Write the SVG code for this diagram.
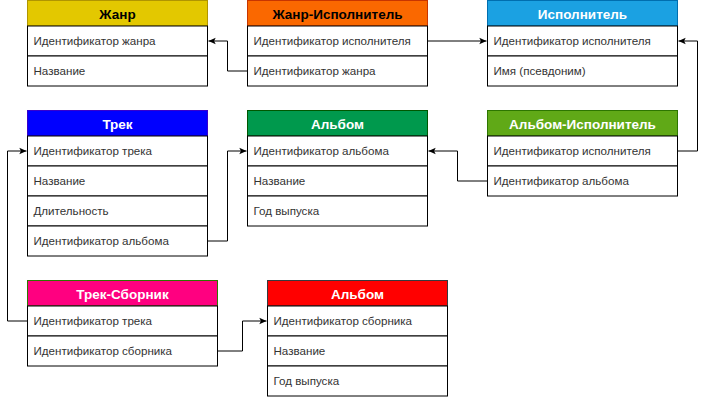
<svg xmlns="http://www.w3.org/2000/svg" width="706" height="400" viewBox="0 0 706 400">
<style>
.row{fill:#ffffff;stroke:#000000;stroke-width:1}
.t{font-family:"Liberation Sans",Arial,sans-serif;font-size:11.6px;fill:#333333}
.h{font-family:"Liberation Sans",Arial,sans-serif;font-size:13.5px;font-weight:bold;text-anchor:middle;fill:#ffffff}
.c{fill:none;stroke:#000000;stroke-width:1;marker-end:url(#arr)}
</style>
<defs>
<marker id="arr" viewBox="0 0 10 10" refX="9" refY="5" markerWidth="8" markerHeight="8" markerUnits="userSpaceOnUse" orient="auto">
<path d="M0,1 L9,5 L0,9 L2,5 Z" fill="#000000"/>
</marker>
</defs>
<rect width="706" height="400" fill="#ffffff"/>
<g id="connectors">
<path class="c" d="M247.5,71 H227.5 V41 H208.5"/>
<path class="c" d="M427.5,41 H486.5"/>
<path class="c" d="M677.5,151 H697.5 V41 H678.5"/>
<path class="c" d="M487.5,181 H457.5 V151 H428.5"/>
<path class="c" d="M207.5,241 H227.5 V151 H246.5"/>
<path class="c" d="M27.5,321 H7.5 V151 H26.5"/>
<path class="c" d="M217.5,351 H242.5 V321 H266.5"/>
</g>
<g id="zhanr">
<rect x="27.5" y="0.5" width="180" height="25.5" fill="#e3c800" stroke="#b09500"/>
<text class="h" x="117.5" y="19" style="fill:#000000">Жанр</text>
<rect class="row" x="27.5" y="26" width="180" height="30"/>
<text class="t" x="33.5" y="45">Идентификатор жанра</text>
<rect class="row" x="27.5" y="56" width="180" height="30"/>
<text class="t" x="33.5" y="75">Название</text>
</g>
<g id="zhanr-ispolnitel">
<rect x="247.5" y="0.5" width="180" height="25.5" fill="#fa6800" stroke="#c73500"/>
<text class="h" x="337.5" y="19" style="fill:#000000">Жанр-Исполнитель</text>
<rect class="row" x="247.5" y="26" width="180" height="30"/>
<text class="t" x="253.5" y="45">Идентификатор исполнителя</text>
<rect class="row" x="247.5" y="56" width="180" height="30"/>
<text class="t" x="253.5" y="75">Идентификатор жанра</text>
</g>
<g id="ispolnitel">
<rect x="487.5" y="0.5" width="190" height="25.5" fill="#1ba1e2" stroke="#006eaf"/>
<text class="h" x="582.5" y="19">Исполнитель</text>
<rect class="row" x="487.5" y="26" width="190" height="30"/>
<text class="t" x="493.5" y="45">Идентификатор исполнителя</text>
<rect class="row" x="487.5" y="56" width="190" height="30"/>
<text class="t" x="493.5" y="75">Имя (псевдоним)</text>
</g>
<g id="trek">
<rect x="27.5" y="110.5" width="180" height="25.5" fill="#0000ff" stroke="#3700cc"/>
<text class="h" x="117.5" y="129">Трек</text>
<rect class="row" x="27.5" y="136" width="180" height="30"/>
<text class="t" x="33.5" y="155">Идентификатор трека</text>
<rect class="row" x="27.5" y="166" width="180" height="30"/>
<text class="t" x="33.5" y="185">Название</text>
<rect class="row" x="27.5" y="196" width="180" height="30"/>
<text class="t" x="33.5" y="215">Длительность</text>
<rect class="row" x="27.5" y="226" width="180" height="30"/>
<text class="t" x="33.5" y="245">Идентификатор альбома</text>
</g>
<g id="albom">
<rect x="247.5" y="110.5" width="180" height="25.5" fill="#00994d" stroke="#005700"/>
<text class="h" x="337.5" y="129">Альбом</text>
<rect class="row" x="247.5" y="136" width="180" height="30"/>
<text class="t" x="253.5" y="155">Идентификатор альбома</text>
<rect class="row" x="247.5" y="166" width="180" height="30"/>
<text class="t" x="253.5" y="185">Название</text>
<rect class="row" x="247.5" y="196" width="180" height="30"/>
<text class="t" x="253.5" y="215">Год выпуска</text>
</g>
<g id="albom-ispolnitel">
<rect x="487.5" y="110.5" width="190" height="25.5" fill="#60a917" stroke="#2d7600"/>
<text class="h" x="582.5" y="129">Альбом-Исполнитель</text>
<rect class="row" x="487.5" y="136" width="190" height="30"/>
<text class="t" x="493.5" y="155">Идентификатор исполнителя</text>
<rect class="row" x="487.5" y="166" width="190" height="30"/>
<text class="t" x="493.5" y="185">Идентификатор альбома</text>
</g>
<g id="trek-sbornik">
<rect x="27.5" y="280.5" width="190" height="25.5" fill="#ff0080" stroke="#2d7600"/>
<text class="h" x="122.5" y="299">Трек-Сборник</text>
<rect class="row" x="27.5" y="306" width="190" height="30"/>
<text class="t" x="33.5" y="325">Идентификатор трека</text>
<rect class="row" x="27.5" y="336" width="190" height="30"/>
<text class="t" x="33.5" y="355">Идентификатор сборника</text>
</g>
<g id="sbornik">
<rect x="267.5" y="280.5" width="180" height="25.5" fill="#ff0000" stroke="#36393d"/>
<text class="h" x="357.5" y="299">Альбом</text>
<rect class="row" x="267.5" y="306" width="180" height="30"/>
<text class="t" x="273.5" y="325">Идентификатор сборника</text>
<rect class="row" x="267.5" y="336" width="180" height="30"/>
<text class="t" x="273.5" y="355">Название</text>
<rect class="row" x="267.5" y="366" width="180" height="30"/>
<text class="t" x="273.5" y="385">Год выпуска</text>
</g>
</svg>
